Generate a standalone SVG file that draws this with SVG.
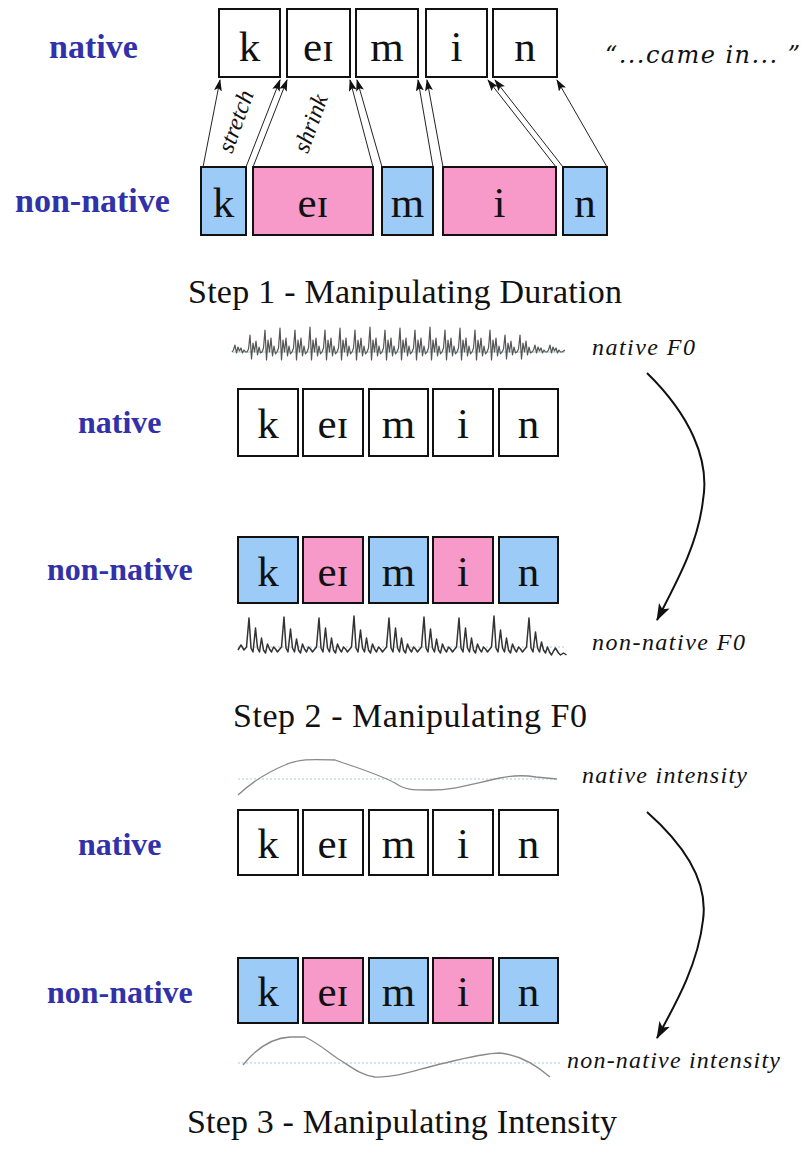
<svg xmlns="http://www.w3.org/2000/svg" width="811" height="1153" viewBox="0 0 811 1153">
  <style>
    .bg { fill: #ffffff; }
    .seg { stroke: #111; stroke-width: 2; }
    .plain { fill: #ffffff; }
    .cons { fill: #9dcbf7; }
    .vow { fill: #f799c9; }
    .ph { font-family: "Liberation Serif", "DejaVu Serif", serif; font-size: 43px; fill: #111; text-anchor: middle; }
    .lab1 { font-family: "Liberation Serif", "DejaVu Serif", serif; font-weight: bold; font-size: 34px; fill: #3131a9; }
    .lab { font-family: "Liberation Serif", "DejaVu Serif", serif; font-weight: bold; font-size: 32px; fill: #3131a9; }
    .it { font-family: "Liberation Serif", "DejaVu Serif", serif; font-style: italic; fill: #111; }
    .quote { font-family: "DejaVu Serif", "Liberation Serif", serif; font-style: italic; font-size: 24px; fill: #111; }
    .cap { font-family: "Liberation Serif", "DejaVu Serif", serif; font-size: 34px; fill: #111; }
    .map { stroke: #222; stroke-width: 1; fill: none; marker-end: url(#tip); }
    .bend { stroke: #111; stroke-width: 2; fill: none; marker-end: url(#bigtip); }
    .wave { stroke: #555; stroke-width: 1.2; fill: none; stroke-linejoin: round; }
    .wave2 { stroke: #333; stroke-width: 1.5; fill: none; stroke-linejoin: round; }
    .axis { stroke: #9ccfd0; stroke-width: 1; }
    .dots { stroke: #a9cbe0; stroke-width: 1; stroke-dasharray: 2 2; }
    .env { stroke: #8a8a8a; stroke-width: 1.3; fill: none; }
  </style>
  <defs>
    <marker id="tip" markerUnits="userSpaceOnUse" markerWidth="12" markerHeight="9" refX="11" refY="4" orient="auto">
      <path d="M0,0 L12,4 L0,8 L2.5,4 z" fill="#111"/>
    </marker>
    <marker id="bigtip" markerUnits="userSpaceOnUse" markerWidth="18" markerHeight="13" refX="16" refY="6" orient="auto">
      <path d="M0,0 L17,6 L0,12 L4,6 z" fill="#111"/>
    </marker>
  </defs>

  <rect class="bg" x="0" y="0" width="811" height="1153"/>

  <!-- ===== Step 1: duration ===== -->
  <g id="s1-labels">
    <text class="lab1" x="49" y="58">native</text>
    <text class="lab1" x="15" y="212">non-native</text>
    <text class="quote" x="605" y="63" textLength="195">“...came in... ”</text>
  </g>

  <g id="s1-native-k"><rect class="seg plain" x="219" y="9" width="61" height="68"/><text class="ph" x="249.5" y="61">k</text></g>
  <g id="s1-native-ei"><rect class="seg plain" x="287" y="9" width="63" height="68"/><text class="ph" x="318.5" y="61">eɪ</text></g>
  <g id="s1-native-m"><rect class="seg plain" x="356" y="9" width="62" height="68"/><text class="ph" x="387" y="61">m</text></g>
  <g id="s1-native-i"><rect class="seg plain" x="426" y="9" width="61" height="68"/><text class="ph" x="456.5" y="61">i</text></g>
  <g id="s1-native-n"><rect class="seg plain" x="493" y="9" width="64" height="68"/><text class="ph" x="525" y="61">n</text></g>

  <g id="s1-nonnative-k"><rect class="seg cons" x="201" y="167" width="45" height="68"/><text class="ph" x="223.5" y="217">k</text></g>
  <g id="s1-nonnative-ei"><rect class="seg vow" x="253" y="167" width="120" height="68"/><text class="ph" x="313" y="217">eɪ</text></g>
  <g id="s1-nonnative-m"><rect class="seg cons" x="382" y="167" width="51" height="68"/><text class="ph" x="407.5" y="217">m</text></g>
  <g id="s1-nonnative-i"><rect class="seg vow" x="443" y="167" width="113" height="68"/><text class="ph" x="499.5" y="217">i</text></g>
  <g id="s1-nonnative-n"><rect class="seg cons" x="563" y="167" width="44" height="68"/><text class="ph" x="585" y="217">n</text></g>

  <g id="s1-connectors">
    <line class="map" x1="203" y1="167" x2="220" y2="80"/>
    <line class="map" x1="246" y1="167" x2="280" y2="80"/>
    <line class="map" x1="253" y1="167" x2="287" y2="80"/>
    <line class="map" x1="373" y1="167" x2="350" y2="80"/>
    <line class="map" x1="382" y1="167" x2="357" y2="80"/>
    <line class="map" x1="433" y1="167" x2="418" y2="80"/>
    <line class="map" x1="443" y1="167" x2="427" y2="80"/>
    <line class="map" x1="556" y1="167" x2="488" y2="80"/>
    <line class="map" x1="563" y1="167" x2="495" y2="80"/>
    <line class="map" x1="607" y1="167" x2="557" y2="80"/>
    <text class="it" font-size="24" text-anchor="middle" transform="translate(243,124) rotate(-70)">stretch</text>
    <text class="it" font-size="24" text-anchor="middle" transform="translate(318,126) rotate(-70)">shrink</text>
  </g>

  <text class="cap" x="188" y="303" textLength="434">Step 1 - Manipulating Duration</text>

  <!-- ===== Step 2: F0 ===== -->
  <g id="s2-labels">
    <text class="lab" x="78" y="433">native</text>
    <text class="lab" x="47" y="580">non-native</text>
    <text class="it" x="592" y="355" font-size="24" textLength="103">native F0</text>
    <text class="it" x="592" y="650" font-size="24" textLength="153">non-native F0</text>
  </g>

  <g id="s2-native-wave">
    <line class="axis" x1="232" y1="352" x2="565" y2="352"/>
    <path class="wave" d="M232,352
      l1.5,-2 l1.5,-5 l1.5,8 l1.5,-6 l1.5,4 l1.5,-3 l1.5,5 l1.5,-3 l1.5,2 l1.5,0
      l1.5,-3 l1.5,-14 l1.5,24 l1.5,-16 l1.5,9 l1.5,-11 l1.5,14 l1.5,-8 l1.5,6 l1.5,-1
      l1.5,-4 l1.5,-18 l1.5,30 l1.5,-20 l1.5,12 l1.5,-14 l1.5,18 l1.5,-10 l1.5,8 l1.5,-2
      l1.5,-4 l1.5,-20 l1.5,32 l1.5,-20 l1.5,12 l1.5,-14 l1.5,18 l1.5,-10 l1.5,8 l1.5,-2
      l1.5,-4 l1.5,-18 l1.5,30 l1.5,-20 l1.5,12 l1.5,-14 l1.5,18 l1.5,-10 l1.5,8 l1.5,-2
      l1.5,-4 l1.5,-21 l1.5,33 l1.5,-20 l1.5,12 l1.5,-14 l1.5,18 l1.5,-10 l1.5,8 l1.5,-2
      l1.5,-4 l1.5,-18 l1.5,30 l1.5,-20 l1.5,12 l1.5,-14 l1.5,18 l1.5,-10 l1.5,8 l1.5,-2
      l1.5,-4 l1.5,-20 l1.5,32 l1.5,-20 l1.5,12 l1.5,-14 l1.5,18 l1.5,-10 l1.5,8 l1.5,-2
      l1.5,-4 l1.5,-18 l1.5,30 l1.5,-20 l1.5,12 l1.5,-14 l1.5,18 l1.5,-10 l1.5,8 l1.5,-2
      l1.5,-4 l1.5,-21 l1.5,33 l1.5,-20 l1.5,12 l1.5,-14 l1.5,18 l1.5,-10 l1.5,8 l1.5,-2
      l1.5,-4 l1.5,-18 l1.5,30 l1.5,-20 l1.5,12 l1.5,-14 l1.5,18 l1.5,-10 l1.5,8 l1.5,-2
      l1.5,-4 l1.5,-20 l1.5,32 l1.5,-20 l1.5,12 l1.5,-14 l1.5,18 l1.5,-10 l1.5,8 l1.5,-2
      l1.5,-4 l1.5,-18 l1.5,30 l1.5,-20 l1.5,12 l1.5,-14 l1.5,18 l1.5,-10 l1.5,8 l1.5,-2
      l1.5,-4 l1.5,-21 l1.5,33 l1.5,-20 l1.5,12 l1.5,-14 l1.5,18 l1.5,-10 l1.5,8 l1.5,-2
      l1.5,-4 l1.5,-18 l1.5,30 l1.5,-20 l1.5,12 l1.5,-14 l1.5,18 l1.5,-10 l1.5,8 l1.5,-2
      l1.5,-4 l1.5,-20 l1.5,32 l1.5,-20 l1.5,12 l1.5,-14 l1.5,18 l1.5,-10 l1.5,8 l1.5,-2
      l1.5,-4 l1.5,-18 l1.5,30 l1.5,-20 l1.5,12 l1.5,-14 l1.5,18 l1.5,-10 l1.5,8 l1.5,-2
      l1.5,-4 l1.5,-18 l1.5,30 l1.5,-20 l1.5,12 l1.5,-14 l1.5,18 l1.5,-10 l1.5,8 l1.5,-2
      l1.5,-3 l1.5,-14 l1.5,24 l1.5,-16 l1.5,9 l1.5,-11 l1.5,14 l1.5,-8 l1.5,6 l1.5,-1
      l1.5,-3 l1.5,-14 l1.5,24 l1.5,-16 l1.5,9 l1.5,-11 l1.5,14 l1.5,-8 l1.5,6 l1.5,-1
      l1.5,-2 l1.5,-5 l1.5,8 l1.5,-6 l1.5,4 l1.5,-3 l1.5,5 l1.5,-3 l1.5,2 l1.5,0
      l1.5,-2 l1.5,-5 l1.5,8 l1.5,-6 l1.5,4 l1.5,-3 l1.5,5 l1.5,-3 l1.5,2 l1.5,0
      l3,-2"/>
  </g>

  <g id="s2-native-k"><rect class="seg plain" x="238" y="389" width="60" height="67"/><text class="ph" x="268" y="438">k</text></g>
  <g id="s2-native-ei"><rect class="seg plain" x="303" y="389" width="60" height="67"/><text class="ph" x="333" y="438">eɪ</text></g>
  <g id="s2-native-m"><rect class="seg plain" x="369" y="389" width="59" height="67"/><text class="ph" x="398.5" y="438">m</text></g>
  <g id="s2-native-i"><rect class="seg plain" x="433" y="389" width="60" height="67"/><text class="ph" x="463" y="438">i</text></g>
  <g id="s2-native-n"><rect class="seg plain" x="499" y="389" width="59" height="67"/><text class="ph" x="528.5" y="438">n</text></g>

  <g id="s2-nonnative-k"><rect class="seg cons" x="238" y="537" width="60" height="66"/><text class="ph" x="268" y="586">k</text></g>
  <g id="s2-nonnative-ei"><rect class="seg vow" x="303" y="537" width="60" height="66"/><text class="ph" x="333" y="586">eɪ</text></g>
  <g id="s2-nonnative-m"><rect class="seg cons" x="369" y="537" width="59" height="66"/><text class="ph" x="398.5" y="586">m</text></g>
  <g id="s2-nonnative-i"><rect class="seg vow" x="433" y="537" width="60" height="66"/><text class="ph" x="463" y="586">i</text></g>
  <g id="s2-nonnative-n"><rect class="seg cons" x="499" y="537" width="59" height="66"/><text class="ph" x="528.5" y="586">n</text></g>

  <g id="s2-nonnative-wave">
    <line class="dots" x1="238" y1="647" x2="565" y2="647"/>
    <path class="wave2" d="M238,650 l3,-5 l3,5
      l2.5,-3 l2.5,-29 l2,30 l2,4 l2.5,-24 l2,20 l2,4 l2,-14 l2,12 l2,3 l2,-9 l2,5 l2,3 l2,-5 l2,2 l2,3 l1.5,-2
      l2.5,-3 l2.5,-30 l2,31 l2,4 l2.5,-23 l2,19 l2,4 l2,-13 l2,11 l2,3 l2,-9 l2,5 l2,3 l2,-5 l2,2 l2,3 l1.5,-2
      l2.5,-3 l2.5,-29 l2,30 l2,4 l2.5,-24 l2,20 l2,4 l2,-14 l2,12 l2,3 l2,-9 l2,5 l2,3 l2,-5 l2,2 l2,3 l1.5,-2
      l2.5,-3 l2.5,-31 l2,32 l2,4 l2.5,-22 l2,18 l2,4 l2,-14 l2,12 l2,3 l2,-9 l2,5 l2,3 l2,-5 l2,2 l2,3 l1.5,-2
      l2.5,-3 l2.5,-29 l2,30 l2,4 l2.5,-24 l2,20 l2,4 l2,-14 l2,12 l2,3 l2,-9 l2,5 l2,3 l2,-5 l2,2 l2,3 l1.5,-2
      l2.5,-3 l2.5,-30 l2,31 l2,4 l2.5,-23 l2,19 l2,4 l2,-13 l2,11 l2,3 l2,-9 l2,5 l2,3 l2,-5 l2,2 l2,3 l1.5,-2
      l2.5,-3 l2.5,-29 l2,30 l2,4 l2.5,-24 l2,20 l2,4 l2,-14 l2,12 l2,3 l2,-9 l2,5 l2,3 l2,-5 l2,2 l2,3 l1.5,-2
      l2.5,-3 l2.5,-31 l2,32 l2,4 l2.5,-22 l2,18 l2,4 l2,-14 l2,12 l2,3 l2,-9 l2,5 l2,3 l2,-5 l2,2 l2,3 l1.5,-2
      l2.5,-3 l2.5,-29 l2,30 l2,4 l2.5,-20 l2,16 l2,4 l2,-10 l2,8 l2,3 l2,-6 l2,5 l2,3
      l2,-4 l2,-3 l3,5 l2,2 l3,-2 l3,2"/>
  </g>

  <g id="s2-connectors">
    <path class="bend" d="M647,373 C690,415 710,460 703,500 C698,545 675,585 657,620"/>
  </g>

  <text class="cap" x="233" y="727" textLength="354">Step 2 - Manipulating F0</text>

  <!-- ===== Step 3: intensity ===== -->
  <g id="s3-labels">
    <text class="lab" x="78" y="855">native</text>
    <text class="lab" x="47" y="1003">non-native</text>
    <text class="it" x="582" y="783" font-size="24" textLength="165">native intensity</text>
    <text class="it" x="567" y="1068" font-size="24" textLength="213">non-native intensity</text>
  </g>

  <g id="s3-native-curve">
    <line class="dots" x1="238" y1="779" x2="557" y2="779"/>
    <path class="env" d="M238,795 C252,782 268,772 285,765 C298,759 310,759 335,760 C355,767 378,774 395,783 C405,790 412,790 430,790 C455,790 472,784 500,778 C514,775 524,775 536,777 L557,779"/>
  </g>

  <g id="s3-native-k"><rect class="seg plain" x="238" y="810" width="60" height="65"/><text class="ph" x="268" y="858">k</text></g>
  <g id="s3-native-ei"><rect class="seg plain" x="303" y="810" width="60" height="65"/><text class="ph" x="333" y="858">eɪ</text></g>
  <g id="s3-native-m"><rect class="seg plain" x="369" y="810" width="59" height="65"/><text class="ph" x="398.5" y="858">m</text></g>
  <g id="s3-native-i"><rect class="seg plain" x="433" y="810" width="60" height="65"/><text class="ph" x="463" y="858">i</text></g>
  <g id="s3-native-n"><rect class="seg plain" x="499" y="810" width="59" height="65"/><text class="ph" x="528.5" y="858">n</text></g>

  <g id="s3-nonnative-k"><rect class="seg cons" x="238" y="958" width="60" height="65"/><text class="ph" x="268" y="1006">k</text></g>
  <g id="s3-nonnative-ei"><rect class="seg vow" x="303" y="958" width="60" height="65"/><text class="ph" x="333" y="1006">eɪ</text></g>
  <g id="s3-nonnative-m"><rect class="seg cons" x="369" y="958" width="59" height="65"/><text class="ph" x="398.5" y="1006">m</text></g>
  <g id="s3-nonnative-i"><rect class="seg vow" x="433" y="958" width="60" height="65"/><text class="ph" x="463" y="1006">i</text></g>
  <g id="s3-nonnative-n"><rect class="seg cons" x="499" y="958" width="59" height="65"/><text class="ph" x="528.5" y="1006">n</text></g>

  <g id="s3-nonnative-curve">
    <line class="dots" x1="238" y1="1063" x2="560" y2="1063"/>
    <path class="env" d="M243,1065 C255,1050 270,1038 290,1037 L305,1037 C320,1044 330,1054 340,1060 C350,1066 360,1075 375,1077 C400,1078 420,1068 445,1063 C465,1058 485,1053 500,1053 C520,1055 535,1064 550,1077"/>
  </g>

  <g id="s3-connectors">
    <path class="bend" d="M647,812 C690,850 708,885 703,920 C698,965 675,1005 657,1038"/>
  </g>

  <text class="cap" x="187" y="1133" textLength="430">Step 3 - Manipulating Intensity</text>
</svg>
